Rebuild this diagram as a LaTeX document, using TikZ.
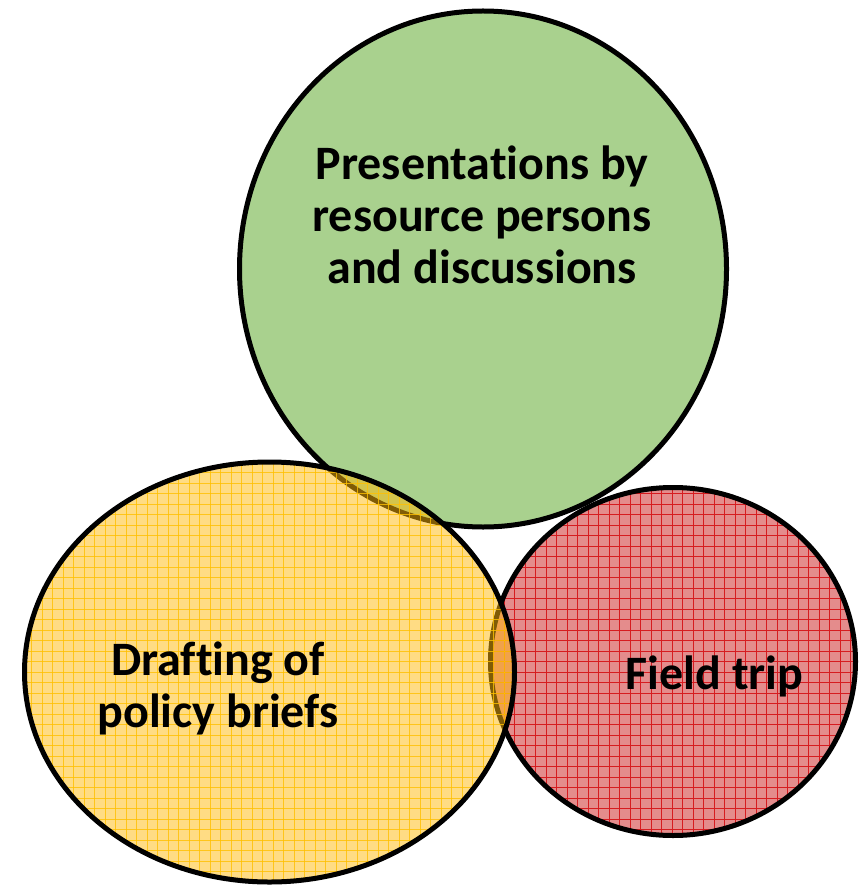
\documentclass[tikz,border=0pt]{standalone}
\usepackage{fontspec}
\setmainfont{Carlito}[Ligatures=NoCommon]
\definecolor{greenfill}{RGB}{169,209,142}
\definecolor{yellowfill}{RGB}{255,185,10}
\definecolor{yellowgrid}{RGB}{255,192,0}
\definecolor{redfill}{RGB}{228,140,140}
\definecolor{redgrid}{RGB}{214,28,32}
\tikzset{
  bubble/.style={line width=5pt},
  gridlines/.style={line width=0.9pt},
  lbl/.style={font=\fontsize{48}{52}\selectfont\bfseries, align=center},
}
\begin{document}
\begin{tikzpicture}[x=1pt, y=-1pt]
\useasboundingbox (0, 0) rectangle (859, 885);
% circles: presentations, field trip, drafting
\fill[greenfill] (483, 269) ellipse [x radius=243.5, y radius=258];
\draw[bubble] (483, 269) ellipse [x radius=243.5, y radius=258];
\fill[redfill] (673, 661.5) ellipse [x radius=182.5, y radius=174];
\begin{scope}
\clip (673, 661.5) ellipse [x radius=182.5, y radius=174];
\foreach \g in {0, 10.5, ..., 885} {
  \draw[gridlines, redgrid] (\g, 0) -- (\g, 885);
  \draw[gridlines, redgrid] (0, \g) -- (859, \g);
}
\end{scope}
\draw[bubble] (673, 661.5) ellipse [x radius=182.5, y radius=174];
\fill[yellowfill, fill opacity=0.5] (269.5, 672) ellipse [x radius=245, y radius=210];
\begin{scope}
\clip (269.5, 672) ellipse [x radius=245, y radius=210];
\foreach \g in {0, 10.5, ..., 885} {
  \draw[gridlines, yellowgrid, opacity=0.8] (\g, 0) -- (\g, 885);
  \draw[gridlines, yellowgrid, opacity=0.8] (0, \g) -- (859, \g);
}
\end{scope}
\draw[bubble] (269.5, 672) ellipse [x radius=245, y radius=210];
% labels
\node[lbl](pres) at (482, 215) {Presentations by\\resource persons\\and discussions};
\node[lbl](draft) at (218, 688) {Drafting of\\policy briefs};
\node[lbl](field) at (714.5, 676) {Field trip};
\end{tikzpicture}
\end{document}
